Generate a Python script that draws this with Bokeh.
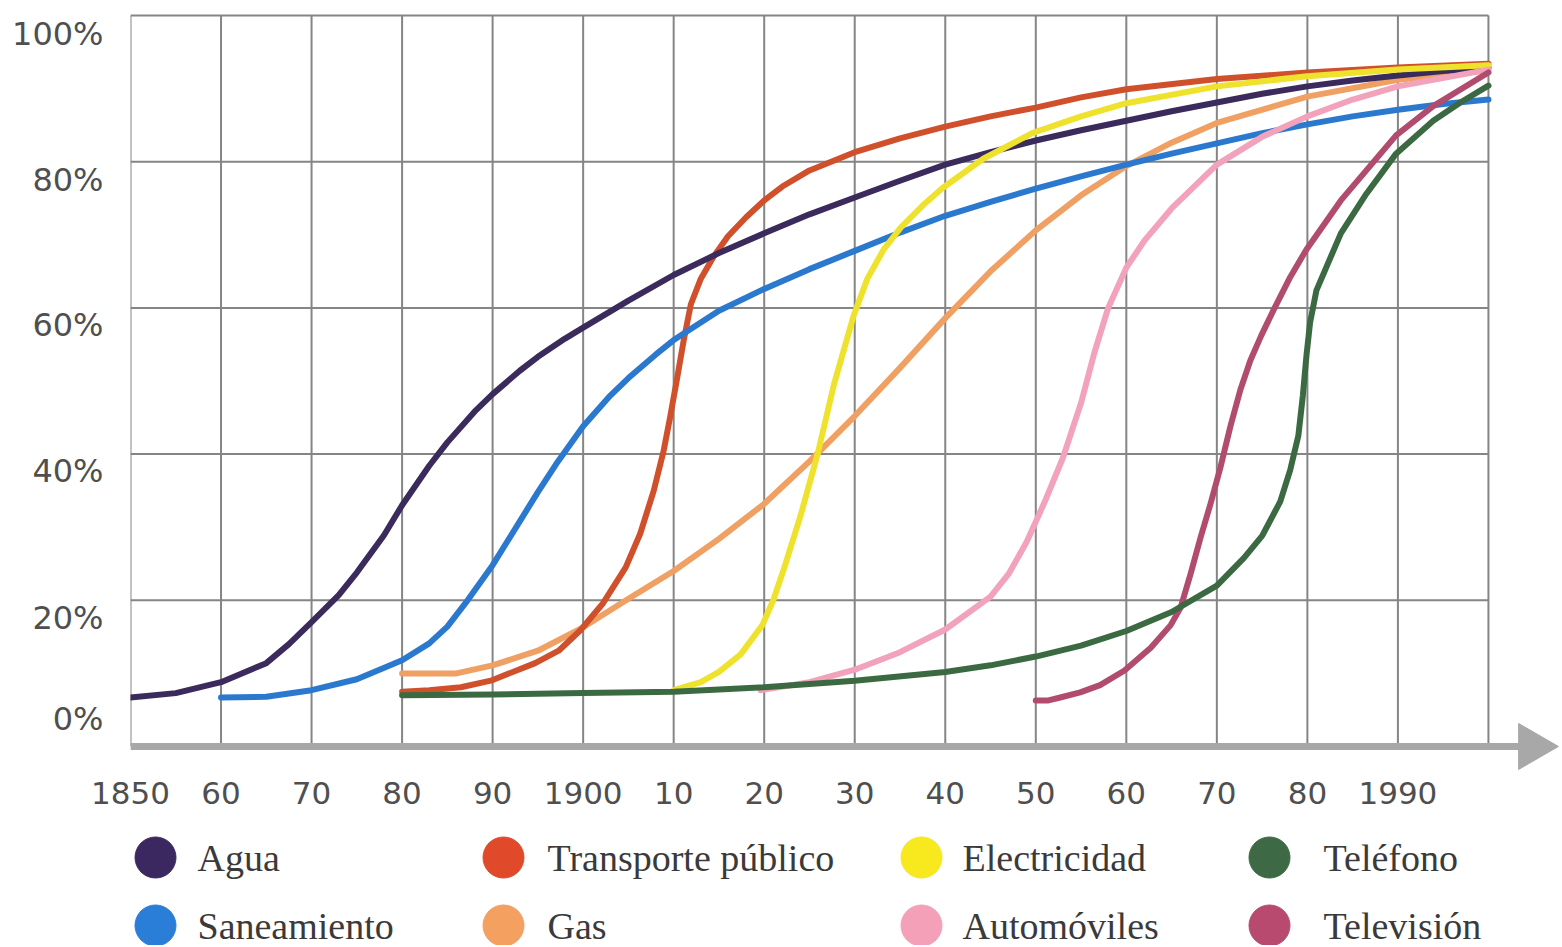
import math
from bokeh.plotting import figure
from bokeh.models import Range1d, FixedTicker
from bokeh.layouts import column
from bokeh.embed import file_html
from bokeh.resources import INLINE
from bokeh.core.properties import value

# ---------------- data ----------------
agua_years = [1850, 1855, 1860, 1865, 1867.5, 1870, 1873, 1875, 1878, 1880, 1883, 1885, 1888, 1890, 1893, 1895, 1898,
              1900, 1905, 1910, 1915, 1920, 1925, 1930, 1935, 1940, 1945, 1950, 1955, 1960, 1965, 1970, 1975,
              1980, 1985, 1990, 1995, 2000]
agua_pct = [6.7, 7.3, 8.8, 11.4, 14.0, 17.0, 20.7, 23.8, 28.9, 33.0, 38.4, 41.6, 45.8, 48.2, 51.4, 53.3, 55.8,
            57.3, 61.0, 64.5, 67.5, 70.2, 72.8, 75.1, 77.4, 79.6, 81.3, 82.9, 84.3, 85.6, 86.9, 88.1, 89.3,
            90.3, 91.1, 91.8, 92.4, 92.9]

saneamiento_years = [1860, 1865, 1870, 1875, 1880, 1883, 1885, 1887, 1890, 1893, 1895, 1897, 1900, 1903, 1905,
                     1908, 1910, 1915, 1920, 1925, 1930, 1935, 1940, 1945, 1950, 1955, 1960, 1965, 1970, 1975,
                     1980, 1985, 1990, 1995, 2000]
saneamiento_pct = [6.7, 6.8, 7.7, 9.2, 11.8, 14.1, 16.4, 19.6, 24.8, 30.8, 34.8, 38.6, 43.8, 48.0, 50.4,
                   53.6, 55.6, 59.6, 62.6, 65.3, 67.8, 70.3, 72.6, 74.5, 76.3, 78.0, 79.6, 81.1, 82.5, 83.9,
                   85.1, 86.2, 87.1, 87.9, 88.5]

transporte_years = [1880, 1883, 1886.5, 1889.8, 1894.7, 1897.3, 1899.7, 1902.2, 1904.7, 1906.3, 1907.8, 1908.9,
                    1909.6, 1910.4, 1911.1, 1911.9, 1913.0, 1914.4, 1916, 1918, 1920, 1922, 1925, 1930,
                    1935, 1940, 1945, 1950, 1955, 1960, 1970, 1980, 1990, 2000]
transporte_pct = [7.5, 7.7, 8.1, 9.0, 11.4, 13.1, 15.9, 19.6, 24.5, 29.1, 35.0, 40.5,
                  45.0, 50.5, 55.5, 60.5, 64.0, 67.0, 69.8, 72.4, 74.7, 76.6, 78.8, 81.3,
                  83.2, 84.8, 86.2, 87.4, 88.8, 89.9, 91.3, 92.2, 92.9, 93.4]

gas_years = [1880, 1886, 1890, 1895, 1900, 1905, 1910, 1915, 1920, 1925, 1930, 1935, 1940, 1945, 1950,
             1955, 1960, 1965, 1970, 1980, 1990, 2000]
gas_pct = [10.0, 10.0, 11.1, 13.1, 16.3, 20.2, 24.0, 28.4, 33.2, 39.0, 45.2, 51.8, 58.6, 65.0, 70.6,
           75.4, 79.4, 82.6, 85.3, 88.9, 91.2, 92.5]

electricidad_years = [1910, 1913, 1915, 1917.4, 1919.8, 1921, 1922.1, 1924, 1925.9, 1927.7, 1929.9, 1931.4, 1933.2,
                      1935.1, 1937.5, 1939.7, 1944.2, 1949.6, 1955, 1960, 1970, 1980, 1990, 2000]
electricidad_pct = [7.7, 8.8, 10.2, 12.6, 16.6, 20.0, 24.0, 31.5, 40.0, 49.5, 59.0, 64.0, 68.0,
                    71.0, 74.0, 76.4, 80.4, 83.9, 86.2, 88.0, 90.3, 91.7, 92.6, 93.2]

automoviles_years = [1919.6, 1925, 1930, 1935, 1940, 1945, 1947, 1949, 1951, 1953, 1955, 1956.5, 1958, 1960,
                     1962, 1965, 1970, 1975, 1980, 1985, 1990, 2000]
automoviles_pct = [7.7, 8.8, 10.5, 12.9, 16.0, 20.5, 23.6, 28.0, 33.5, 39.5, 47.0, 54.0, 60.0, 65.5,
                   69.2, 73.6, 79.6, 83.4, 86.2, 88.5, 90.3, 92.6]

telefono_years = [1880, 1890, 1900, 1910, 1920, 1930, 1940, 1945, 1950, 1955, 1960, 1965, 1970, 1973, 1975, 1977,
                  1978.1, 1979, 1979.5, 1979.9, 1980.3, 1981, 1983.7, 1986.4, 1989.8, 1993.9, 1996.9, 2000]
telefono_pct = [7.0, 7.1, 7.3, 7.5, 8.1, 9.0, 10.2, 11.1, 12.3, 13.8, 15.8, 18.4, 22.0, 25.8, 28.8, 33.5,
                37.8, 42.5, 48.0, 53.5, 58.0, 62.4, 70.2, 75.4, 81.1, 85.6, 88.1, 90.4]

television_years = [1950, 1951.4, 1952.7, 1954.9, 1957.1, 1959.8, 1962.7, 1964.9, 1966, 1967.1, 1968.2, 1969.3,
                    1970.4, 1971.5, 1972.6, 1973.7, 1974.9, 1976.3, 1978.1, 1979.9, 1983.7, 1989.8, 1993.9, 2000]
television_pct = [6.3, 6.3, 6.7, 7.4, 8.4, 10.4, 13.5, 16.6, 19.0, 23.6, 28.6, 33.2,
                  38.2, 43.8, 48.8, 52.8, 56.2, 59.8, 64.2, 68.0, 74.7, 83.6, 87.6, 92.2]

series_names = ["Agua", "Saneamiento", "Transporte público", "Gas",
                "Electricidad", "Automóviles", "Teléfono", "Televisión"]
series_years = [agua_years, saneamiento_years, transporte_years, gas_years,
                electricidad_years, automoviles_years, telefono_years, television_years]
series_pct = [agua_pct, saneamiento_pct, transporte_pct, gas_pct,
              electricidad_pct, automoviles_pct, telefono_pct, television_pct]

x_tick_years = [1850, 1860, 1870, 1880, 1890, 1900, 1910, 1920, 1930, 1940, 1950, 1960, 1970, 1980, 1990]
x_tick_labels = ["1850", "60", "70", "80", "90", "1900", "10", "20", "30", "40", "50", "60", "70", "80", "1990"]
grid_years = [1850, 1860, 1870, 1880, 1890, 1900, 1910, 1920, 1930, 1940, 1950, 1960, 1970, 1980, 1990, 2000]
grid_pct = [20, 40, 60, 80, 100]
y_tick_labels = ["0%", "20%", "40%", "60%", "80%", "100%"]

# ---------------- styles ----------------
line_colors = ["#3b2a5c", "#2b79cf", "#d0502c", "#efa062",
               "#efe22c", "#f2a2ba", "#3b6a42", "#b24c6e"]
legend_colors = ["#3c2860", "#2a7ed8", "#e04a2a", "#f3a060",
                 "#f8e81e", "#f3a0b8", "#3d6a45", "#b84a70"]
draw_order = [3, 2, 0, 1, 4, 5, 7, 6]
# label anchors sit a little below each gridline, as in the original
y_label_anchor = [3.8, 17.6, 37.7, 57.6, 77.5, 97.5]
grid_color = "#858585"
axis_color = "#a8a8a8"
label_color = "#4f4f4f"

W = 1560
# ---------------- main chart ----------------
p = figure(width=W, height=820, x_range=Range1d(1850, 2007.96), y_range=Range1d(-3.97, 102.05),
           output_backend="svg", toolbar_location=None,
           min_border_left=130, min_border_right=0, min_border_top=0, min_border_bottom=45)
p.outline_line_color = None
p.xgrid.visible = False
p.ygrid.visible = False

# grid
p.segment(x0=grid_years, y0=[0] * len(grid_years), x1=grid_years, y1=[grid_pct[-1]] * len(grid_years),
          line_color=grid_color, line_width=2)
p.segment(x0=[grid_years[0]] * len(grid_pct), y0=grid_pct, x1=[grid_years[-1]] * len(grid_pct), y1=grid_pct,
          line_color=grid_color, line_width=2)

# curves
for i in draw_order:
    p.line(series_years[i], series_pct[i], line_color=line_colors[i], line_width=6,
           line_cap="round", line_join="round")

# horizontal axis with arrow
p.segment(x0=[grid_years[0]], y0=[0], x1=[grid_years[-1] + 4], y1=[0], line_color=axis_color, line_width=7)
p.scatter(x=[grid_years[-1] + 4.8], y=[0], marker="triangle", size=46, angle=-math.pi / 2,
          fill_color=axis_color, line_color=axis_color)

for ax in (p.xaxis, p.yaxis):
    ax.axis_line_color = None
    ax.major_tick_line_color = None
    ax.minor_tick_line_color = None
    ax.major_label_text_font = "DejaVu Sans"
    ax.major_label_text_color = label_color

p.xaxis.ticker = FixedTicker(ticks=x_tick_years)
p.xaxis.major_label_overrides = {t: l for t, l in zip(x_tick_years, x_tick_labels)}
p.xaxis.major_label_text_font_size = "31px"
p.xaxis.major_label_standoff = 0

p.yaxis.ticker = FixedTicker(ticks=y_label_anchor)
p.yaxis.major_label_overrides = {t: l for t, l in zip(y_label_anchor, y_tick_labels)}
p.yaxis.major_label_text_font_size = "32px"
p.yaxis.major_label_standoff = 21

# ---------------- legend (manual, 2 rows x 4 columns) ----------------
LH = 125
lg = figure(width=W, height=LH, x_range=Range1d(130, W), y_range=Range1d(0, LH),
            output_backend="svg", toolbar_location=None,
            min_border_left=130, min_border_right=0, min_border_top=0, min_border_bottom=0)
lg.outline_line_color = None
lg.xgrid.visible = False
lg.ygrid.visible = False
lg.xaxis.visible = False
lg.yaxis.visible = False

col_circle_x = [155, 503, 921, 1269]
col_text_x = [197, 547, 962, 1323]
row_y = [88, 20]
cx, cy, tx, ty = [], [], [], []
for i in range(len(series_names)):
    c, r = i // 2, i % 2
    cx.append(col_circle_x[c]); cy.append(row_y[r])
    tx.append(col_text_x[c]); ty.append(row_y[r])

lg.scatter(x=cx, y=cy, marker="circle", size=41, fill_color=legend_colors, line_color=legend_colors)
lg.text(x=tx, y=ty, text=series_names, text_font=value("Liberation Serif"), text_font_size="38px",
        text_baseline="middle", text_align="left", text_color="#3a3a3a")

layout = column(p, lg, spacing=0)
open("out.html", "w").write(file_html(layout, INLINE))
